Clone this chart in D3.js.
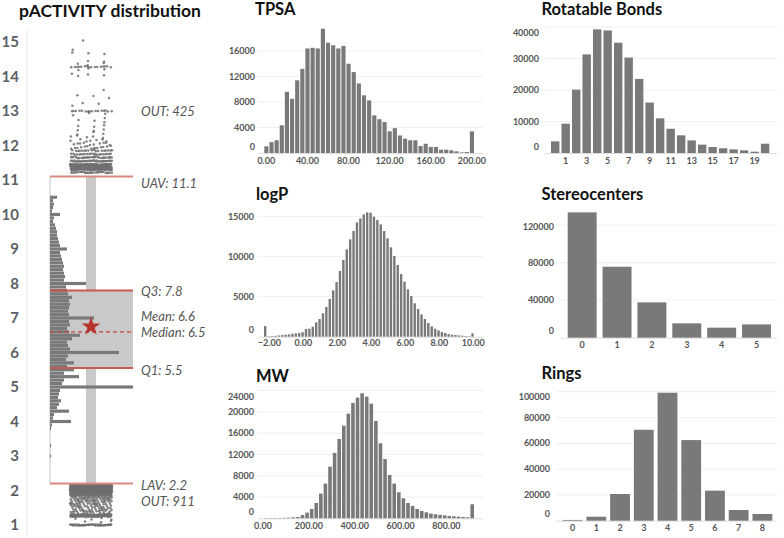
<!DOCTYPE html>
<html><head><meta charset="utf-8">
<script src="https://cdn.jsdelivr.net/npm/d3@7"></script>
<style>
body{margin:0;background:#fff}
svg{display:block}
text{font-family:Lato,"DejaVu Sans",sans-serif}
</style>
</head><body>
<svg id="c" width="784" height="538"></svg>
<script>
// ---------------- DATA ----------------
// pACTIVITY panel
const actTicks = [1,2,3,4,5,6,7,8,9,10,11,12,13,14,15];
const actBinCenters = [11.0,10.9,10.8,10.7,10.6,10.5,10.4,10.3,10.2,10.1,10.0,9.9,9.8,9.7,9.6,9.5,9.4,9.3,9.2,9.1,
  9.0,8.9,8.8,8.7,8.6,8.5,8.4,8.3,8.2,8.1,8.0,7.9,7.8,7.7,7.6,7.5,7.4,7.3,7.2,7.1,
  7.0,6.9,6.8,6.7,6.6,6.5,6.4,6.3,6.2,6.1,6.0,5.9,5.8,5.7,5.6,5.5,5.4,5.3,5.2,5.1,
  5.0,4.9,4.8,4.7,4.6,4.5,4.4,4.3,4.2,4.1,4.0,3.9,3.8,3.7,3.6,3.5,3.4,3.3,3.2,3.1,3.0];
const actCounts = [0,0,0,0,0,7,3,4,3,2,10,4,3,5,6,7,7,8,9,10,
  17,10,11,12,13,14,13,14,15,14,36,16,17,18,22,19,20,19,18,19,
  44,19,20,17,19,30,22,17,18,20,69,18,16,24,17,24,14,29,14,12,
  83,10,9,8,11,9,7,19,4,3,21,2,1,0,0,0,0,1,0,0,1];
const actUAV = 11.1, actQ3 = 7.8, actMedian = 6.6, actMean = 6.75, actQ1 = 5.55, actLAV = 2.2;
const actLabels = ["OUT: 425","UAV: 11.1","Q3: 7.8","Mean: 6.6","Median: 6.5","Q1: 5.5","LAV: 2.2","OUT: 911"];
// outliers: [pActivity, number of compounds]
const actOutUpper = [[15.0,1],[14.8,1],[14.65,3],[14.45,2],[14.35,3],[14.28,16],[14.2,3],[14.05,4],[13.65,1],[13.45,2],
  [13.35,1],[13.25,2],[13.15,1],[13.0,16],[12.9,3],[12.8,1],[12.7,3],[12.55,3],[12.45,3],[12.35,3],[12.25,5],
  [12.15,7],[12.05,10],[11.95,14],[11.85,18],[11.75,22],[11.65,28],[11.55,35],[11.45,50],[11.4,50],[11.35,40],[11.3,45],[11.22,30]];
const actOutLower = [[2.15,100],[2.1,120],[2.05,120],[2.0,110],[1.95,100],[1.9,60],[1.85,30],[1.8,20],[1.75,18],[1.7,16],
  [1.65,15],[1.6,14],[1.55,13],[1.5,12],[1.45,12],[1.4,15],[1.35,10],[1.3,40],[1.25,40],[1.2,5],[1.1,3],[1.0,45]];

// TPSA histogram (bin width 5, last bin = >200)
const tpsaCounts = [1050,1700,2000,4350,9600,8500,11400,13200,16400,16500,16400,19500,17300,16900,16400,16800,14000,12700,10900,9050,
  8250,5900,5300,4850,3400,3900,2750,2250,2000,2000,1100,1450,950,950,520,520,420,260,100,160,3400];
const tpsaTicksY = [0,4000,8000,12000,16000];
const tpsaTicksX = [0,40,80,120,160,200];
// logP histogram (bin width 0.2, first bin <-2, last bin >10)
const logpCounts = [1330,
  60,80,110,150,200,250,290,370,420,460,
  560,960,1000,1250,1790,2210,2920,3710,4710,5790,
  6830,8210,9580,10920,12170,13210,14290,14790,15290,15540,
  15500,15000,14600,14040,13200,12300,11170,10080,8960,7830,
  6880,5920,5080,4170,3460,2790,2210,1710,1290,1000,
  790,580,460,330,250,210,170,130,80,60,
  420];
const logpTicksY = [0,5000,10000,15000];
const logpTicksX = [-2,0,2,4,6,8,10];
// MW histogram (bin width 20, last bin >900)
const mwCounts = [60,60,60,60,90,120,190,250,630,1060,1750,2880,4630,6510,9700,12270,14900,17400,19660,21660,
  22660,23475,22850,21530,18280,14090,11140,8140,6510,4880,3760,2880,2320,1750,1380,1130,880,750,630,560,
  440,380,310,250,190,2630];
const mwTicksY = [0,4000,8000,12000,16000,20000,24000];
const mwTicksX = [0,200,400,600,800];
// Rotatable bonds
const rbCats = [0,1,2,3,4,5,6,7,8,9,10,11,12,13,14,15,16,17,18,19,20];
const rbCounts = [3700,9300,20100,31300,39250,38900,35000,30300,23500,16000,11000,7700,5600,4000,2650,1900,1500,1150,850,420,2950];
const rbTicksY = [0,10000,20000,30000,40000];
const rbLabelsX = [1,3,5,7,9,11,13,15,17,19];
// Stereocenters
const stCats = [0,1,2,3,4,5];
const stCounts = [133700,75700,37700,15300,10700,14200];
const stTicksY = [0,40000,80000,120000];
// Rings
const rgCats = [0,1,2,3,4,5,6,7,8];
const rgCounts = [600,3100,20700,70500,99200,62500,23300,8300,5200];
const rgTicksY = [0,20000,40000,60000,80000,100000];

// ---------------- DRAW ----------------
const svg = d3.select("#c");
svg.append("rect").attr("width",784).attr("height",538).attr("fill","#fff");
const BAR = "#797979", TXT = "#555555", GRID = "#efefef";

// ===== pACTIVITY distribution =====
const yA = d3.scaleLinear().domain([1,15]).range([525,42]);
const xA = d3.scaleLinear().domain([0,83]).range([50,133]);
const gA = svg.append("g");
gA.append("text").attr("x",19).attr("y",17).attr("font-size",17.5).attr("font-weight","bold").attr("fill","#111")
  .text("pACTIVITY distribution");
gA.append("line").attr("x1",27).attr("x2",27).attr("y1",30).attr("y2",536).attr("stroke","#e3e3e3");
gA.selectAll("text.yt").data(actTicks).join("text").attr("class","yt")
  .attr("x",19).attr("y",d=>yA(d)).attr("dy","0.36em").attr("text-anchor","end")
  .attr("font-size",15).attr("font-weight","bold").attr("fill","#5b5f66").text(d=>d);
// whisker
gA.append("rect").attr("x",86).attr("width",10).attr("y",yA(actUAV)).attr("height",yA(actLAV)-yA(actUAV)).attr("fill","#c9c9c9");
// box
gA.append("rect").attr("x",xA(0)).attr("width",xA(83)-xA(0)).attr("y",yA(actQ3)).attr("height",yA(actQ1)-yA(actQ3)).attr("fill","#c9c9c9");
// histogram baseline
gA.append("line").attr("x1",50).attr("x2",50).attr("y1",yA(actUAV)).attr("y2",yA(actLAV)).attr("stroke","#c4c4c4");
// histogram bars
const bh = Math.abs(yA(0.1)-yA(0));
gA.selectAll("rect.hb").data(actBinCenters.map((v,i)=>[v,actCounts[i]]).filter(d=>d[1]>0)).join("rect").attr("class","hb")
  .attr("x",xA(0)).attr("y",d=>yA(d[0])-bh*0.46).attr("height",bh*0.92).attr("width",d=>xA(d[1])-xA(0)).attr("fill",BAR);
// outliers
function outDots(rows){
  const pts=[]; let k=0;
  rows.forEach(([v,n],r)=>{
    for(let i=0;i<n;i++){
      const fx=(k*0.6180339887+r*0.137+0.31)%1;
      const fy=((k*0.7548776662)%1)-0.5;
      k++;
      pts.push([70+42*fx, yA(v)+fy*(n>=16?1.2:3.2)]);
    }
  });
  return pts;
}
gA.selectAll("circle.ou").data(outDots(actOutUpper).concat(outDots(actOutLower))).join("circle").attr("class","ou")
  .attr("cx",d=>d[0]).attr("cy",d=>d[1]).attr("r",1.25).attr("fill","#6f6f6f").attr("opacity",0.85);
// stat lines
[[actUAV,"#d98a80"],[actLAV,"#d98a80"],[actQ3,"#c65a4f"],[actQ1,"#c65a4f"]].forEach(([v,c])=>{
  gA.append("line").attr("x1",xA(0)).attr("x2",xA(83)).attr("y1",yA(v)).attr("y2",yA(v)).attr("stroke",c).attr("stroke-width",2);
});
gA.append("line").attr("x1",xA(0)).attr("x2",xA(83)).attr("y1",yA(actMedian)).attr("y2",yA(actMedian))
  .attr("stroke","#c0453a").attr("stroke-width",1.3).attr("stroke-dasharray","4,3");
gA.append("path").attr("d",d3.symbol(d3.symbolStar,110)()).attr("transform",`translate(91,${yA(actMean)})`).attr("fill","#b8342a");
// stat labels
const labY = [yA(13)+5, yA(actUAV)+11, yA(actQ3)+5.5, yA(actMedian)-10.5, yA(actMedian)+5.5, yA(actQ1)+6.5, yA(actLAV)+6, yA(actLAV)+22.5];
gA.selectAll("text.sl").data(actLabels).join("text").attr("class","sl")
  .attr("x",141).attr("y",(d,i)=>labY[i]).attr("font-size",13).attr("font-style","italic")
  .attr("fill","#555").text(d=>d);

// ===== generic small panels =====
function axisY(g, y, ticks, labelX, gx0, gx1, topShift){
  g.selectAll("line.gr").data(ticks.filter(t=>t>0)).join("line").attr("class","gr")
    .attr("x1",gx0).attr("x2",gx1).attr("y1",d=>y(d)).attr("y2",d=>y(d)).attr("stroke",GRID);
  g.append("line").attr("x1",gx0).attr("x2",gx1).attr("y1",y(0)+0.5).attr("y2",y(0)+0.5).attr("stroke","#dedede");
  const top = ticks[ticks.length-1];
  g.selectAll("text.yl").data(ticks).join("text").attr("class","yl")
    .attr("x",labelX).attr("y",d=>y(d)+(d===0?-6.5:(d===top?topShift:0))).attr("dy","0.35em").attr("text-anchor","end")
    .attr("font-size",9).attr("font-weight","bold").attr("fill",TXT).text(d=>d);
}
function title(g, x, y, t){
  g.append("text").attr("x",x).attr("y",y).attr("font-size",16.5).attr("font-weight","bold").attr("fill","#111").text(t);
}
function histPanel(o){
  const g = svg.append("g");
  const x = d3.scaleLinear().domain(o.xd).range(o.xr);
  const y = d3.scaleLinear().domain([0,o.yTicks[o.yTicks.length-1]]).range(o.yr);
  axisY(g, y, o.yTicks, o.labelX, o.gx[0], o.gx[1], o.topShift);
  const bins = o.counts.map((c,i)=>({x0:o.xd[0]+i*o.bw, x1:o.xd[0]+(i+1)*o.bw, c}));
  g.selectAll("rect.b").data(bins).join("rect").attr("class","b")
    .attr("x",d=>x(d.x0)).attr("width",d=>Math.max(0.5,x(d.x1)-x(d.x0)-1))
    .attr("y",d=>y(d.c)).attr("height",d=>y(0)-y(d.c)).attr("fill",BAR);
  g.selectAll("text.xl").data(o.xTicks).join("text").attr("class","xl")
    .attr("x",d=>x(d)+o.xShift).attr("y",o.xLabelY).attr("dy","0.35em").attr("text-anchor","middle")
    .attr("font-size",9).attr("font-weight","bold").attr("fill",TXT).text(d=>d3.format(".2f")(d));
  title(g, o.tx, o.ty, o.title);
}
function barPanel(o){
  const g = svg.append("g");
  const x = d3.scaleBand().domain(o.cats).range(o.xr).paddingInner(o.pad).paddingOuter(0);
  const y = d3.scaleLinear().domain([0,o.yTicks[o.yTicks.length-1]]).range(o.yr);
  axisY(g, y, o.yTicks, o.labelX, o.gx[0], o.gx[1], o.topShift);
  g.selectAll("rect.b").data(o.cats.map((c,i)=>[c,o.counts[i]])).join("rect").attr("class","b")
    .attr("x",d=>x(d[0])).attr("width",x.bandwidth()).attr("y",d=>y(d[1])).attr("height",d=>y(0)-y(d[1])).attr("fill",BAR);
  g.selectAll("text.xl").data(o.labels).join("text").attr("class","xl")
    .attr("x",d=>x(d)+x.bandwidth()/2).attr("y",o.xLabelY).attr("dy","0.35em").attr("text-anchor","middle")
    .attr("font-size",9).attr("font-weight","bold").attr("fill",TXT).text(d=>d);
  title(g, o.tx, o.ty, o.title);
}

histPanel({title:"TPSA", tx:255, ty:15, counts:tpsaCounts, xd:[0,205], bw:5, xr:[264.3,475],
  yTicks:tpsaTicksY, yr:[153,51], labelX:255, gx:[258,483], topShift:0, xTicks:tpsaTicksX, xLabelY:161, xShift:2});
histPanel({title:"logP", tx:256, ty:200, counts:logpCounts, xd:[-2.2,10.2], bw:0.2, xr:[264,474.7],
  yTicks:logpTicksY, yr:[336.7,216.7], labelX:254, gx:[258,483], topShift:0, xTicks:logpTicksX, xLabelY:343, xShift:2});
histPanel({title:"MW", tx:256, ty:381.5, counts:mwCounts, xd:[0,920], bw:20, xr:[264,475],
  yTicks:mwTicksY, yr:[518.3,390.5], labelX:254, gx:[258,483], topShift:6.5, xTicks:mwTicksX, xLabelY:526, xShift:-1});
barPanel({title:"Rotatable Bonds", tx:541.5, ty:15, cats:rbCats, counts:rbCounts, labels:rbLabelsX, xr:[551,769.3], pad:0.2,
  yTicks:rbTicksY, yr:[153,27], labelX:539, gx:[545,777], topShift:6, xLabelY:161});
barPanel({title:"Stereocenters", tx:541.5, ty:200, cats:stCats, counts:stCounts, labels:stCats, xr:[567.7,771], pad:0.17,
  yTicks:stTicksY, yr:[337.7,225.2], labelX:554, gx:[560,777], topShift:2, xLabelY:345});
barPanel({title:"Rings", tx:541.5, ty:379.3, cats:rgCats, counts:rgCounts, labels:rgCats, xr:[562.7,772.3], pad:0.165,
  yTicks:rgTicksY, yr:[520.7,391.7], labelX:550, gx:[556,777], topShift:5, xLabelY:528});
</script>
</body></html>
